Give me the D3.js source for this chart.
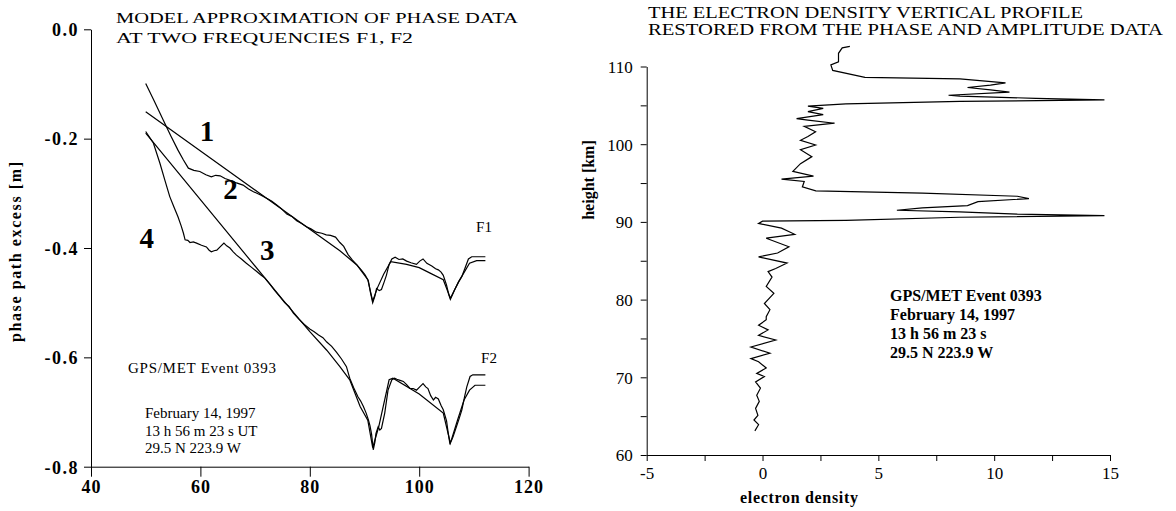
<!DOCTYPE html>
<html>
<head>
<meta charset="utf-8">
<script src="https://cdn.jsdelivr.net/npm/d3@7"></script>
<style>
  body { margin: 0; background: #fff; }
  svg { display: block; font-family: "Liberation Serif", "Times New Roman", serif; }
  .axis path, .axis line { stroke: #000; stroke-width: 1; }
  .axis text { fill: #000; font-family: "Liberation Serif", serif; }
</style>
</head>
<body>
<div id="chart"></div>
<script>
// Left panel: phase path excess at F1, F2 (x = height-like coordinate, y = metres)
const leftXTicks = [40, 60, 80, 100, 120];
const leftYTicks = [0, -0.2, -0.4, -0.6, -0.8];

// F1 measured phase (curve 2)
const f1Data = [
  [50.0,-0.099],[51.6,-0.132],[53.2,-0.166],[54.6,-0.195],[55.9,-0.221],[56.9,-0.239],[57.8,-0.254],
  [58.8,-0.258],[59.9,-0.260],[61.0,-0.266],[62.0,-0.270],[62.8,-0.267],[63.6,-0.268],[64.5,-0.273],
  [65.4,-0.276],[66.6,-0.281],[67.8,-0.285],[68.8,-0.292],[69.7,-0.297],[71.0,-0.303],[72.1,-0.309],
  [73.0,-0.314],[73.9,-0.321],[74.8,-0.328],[75.8,-0.338],[76.8,-0.343],[77.6,-0.350],[78.5,-0.355],
  [79.4,-0.361],[80.2,-0.365],[81.2,-0.371],[82.2,-0.373],[83.0,-0.376],[83.8,-0.377],[84.7,-0.380],
  [85.5,-0.390],[86.2,-0.397],[87.0,-0.412],[87.8,-0.422],[88.6,-0.431],[89.4,-0.440],[90.1,-0.449],
  [90.7,-0.460],[91.1,-0.482],[91.5,-0.500],[91.9,-0.488],[92.2,-0.474],[92.7,-0.478],[93.1,-0.476],
  [93.6,-0.462],[94.0,-0.450],[94.5,-0.430],[95.0,-0.420],[95.6,-0.417],[96.3,-0.421],[97.0,-0.420],
  [97.7,-0.424],[98.5,-0.427],[99.5,-0.430],[100.1,-0.424],[100.7,-0.420],[101.4,-0.428],[102.3,-0.433],
  [103.0,-0.438],[103.5,-0.440],[104.0,-0.444],[104.4,-0.450],[105.0,-0.468],[105.4,-0.485],[105.7,-0.494],
  [106.1,-0.485],[106.5,-0.476],[107.2,-0.462],[107.8,-0.452],[108.4,-0.436],[109.0,-0.420],[109.6,-0.416],
  [112.1,-0.416]
];
// F1 model (line 1)
const f1Model = [
  [50,-0.151],[85.5,-0.405],[88.6,-0.431],[90.6,-0.458],[91.5,-0.497],[92.4,-0.472],[93.5,-0.448],
  [94.8,-0.425],[97.7,-0.430],[100,-0.436],[102,-0.446],[104.4,-0.458],[105.7,-0.492],[107.2,-0.462],
  [109.2,-0.428],[110.5,-0.423],[112.1,-0.423]
];
// F2 measured phase (curve 4)
const f2Data = [
  [50.0,-0.187],[51.4,-0.208],[52.6,-0.245],[53.5,-0.276],[54.4,-0.306],[55.2,-0.326],[55.9,-0.343],
  [56.5,-0.360],[56.9,-0.373],[57.2,-0.385],[57.7,-0.386],[58.1,-0.390],[58.7,-0.389],[59.3,-0.391],
  [60.2,-0.395],[61.1,-0.398],[61.6,-0.404],[62.0,-0.407],[62.5,-0.405],[63.0,-0.404],[63.6,-0.398],
  [64.3,-0.391],[64.8,-0.396],[65.4,-0.400],[66.0,-0.407],[66.6,-0.413],[67.5,-0.420],[68.4,-0.428],
  [69.3,-0.435],[70.3,-0.443],[71.0,-0.449],[71.8,-0.455],[72.7,-0.466],[73.6,-0.478],[74.6,-0.490],
  [75.4,-0.500],[76.2,-0.507],[77.0,-0.519],[78.0,-0.530],[79.0,-0.540],[80.0,-0.548],[80.8,-0.553],
  [81.6,-0.559],[82.4,-0.564],[83.1,-0.572],[84.0,-0.580],[84.9,-0.591],[85.8,-0.603],[86.7,-0.617],
  [87.3,-0.638],[88.0,-0.655],[88.8,-0.672],[89.3,-0.680],[89.8,-0.690],[90.3,-0.702],[90.7,-0.714],
  [91.0,-0.725],[91.3,-0.741],[91.6,-0.769],[91.9,-0.755],[92.1,-0.739],[92.5,-0.727],[92.8,-0.733],
  [93.1,-0.730],[93.7,-0.702],[94.3,-0.660],[95.0,-0.641],[95.5,-0.638],[95.9,-0.640],[96.5,-0.642],
  [97.1,-0.644],[97.7,-0.650],[98.3,-0.657],[98.9,-0.657],[99.5,-0.660],[100.1,-0.654],[100.7,-0.648],
  [101.2,-0.654],[101.6,-0.657],[102.1,-0.670],[102.6,-0.678],[103.0,-0.673],[103.5,-0.676],[104.0,-0.688],
  [104.4,-0.696],[105.0,-0.716],[105.3,-0.738],[105.6,-0.757],[105.9,-0.752],[106.2,-0.745],[106.8,-0.727],
  [107.3,-0.712],[107.8,-0.696],[108.3,-0.672],[108.7,-0.654],[109.3,-0.635],[109.8,-0.632],[112.1,-0.632]
];
// F2 model (line 3)
const f2Model = [
  [50,-0.190],[75,-0.494],[80,-0.553],[83.1,-0.587],[85.5,-0.617],[87.3,-0.641],[89.2,-0.690],
  [90.6,-0.715],[91.5,-0.765],[92.6,-0.727],[94.5,-0.641],[95.2,-0.638],[100,-0.667],[104.4,-0.702],
  [105.7,-0.757],[107,-0.715],[108.2,-0.678],[109.2,-0.660],[110.2,-0.651],[112.1,-0.651]
];
const curveLabels = [
  { text: '1', x: 61.2, y: -0.205 },
  { text: '2', x: 65.5, y: -0.311 },
  { text: '3', x: 72.2, y: -0.422 },
  { text: '4', x: 50.2, y: -0.400 }
];

// Right panel: electron density profile [density, height km]
const rightXTicks = [-5, -2.5, 0, 2.5, 5, 7.5, 10, 12.5, 15];
const rightYTicks = [60, 65, 70, 75, 80, 85, 90, 95, 100, 105, 110];
const profile = [
  [-0.33,63.1],[-0.17,63.9],[-0.37,64.5],[-0.20,65.1],[-0.30,66.0],[-0.14,66.9],[-0.25,67.7],
  [-0.09,68.6],[-0.30,69.4],[0.08,70.1],[-0.25,70.5],[0.16,71.2],[-0.17,72.0],[-0.50,72.4],
  [0.32,73.1],[-0.50,73.9],[0.57,74.8],[-0.17,75.4],[0.24,76.1],[-0.17,76.7],[0.16,77.4],
  [0.16,77.8],[0.32,78.7],[0.08,79.5],[0.49,80.8],[0.16,81.7],[0.41,82.9],[0.24,83.6],
  [0.57,84.0],[1.06,84.7],[-0.17,85.5],[0.65,86.0],[1.14,86.8],[0.16,87.9],[1.39,88.4],
  [0.82,89.2],[-0.17,89.8],[0.0,90.1],[3.6,90.2],[8.5,90.6],[14.76,90.8],[11.0,91.0],
  [8.5,91.3],[5.8,91.5],[6.9,91.8],[8.85,92.1],[9.3,92.6],[11.5,93.0],[11.0,93.3],
  [6.9,93.7],[2.3,94.0],[1.72,94.5],[1.8,95.2],[0.82,95.5],[2.2,95.9],[1.31,96.5],
  [1.64,97.5],[2.13,98.4],[1.64,99.3],[2.29,99.9],[1.64,100.5],[1.96,101.0],[2.29,101.6],
  [1.80,102.3],[3.11,102.7],[1.96,103.1],[1.47,103.3],[2.62,103.8],[1.96,104.2],[2.62,104.6],
  [1.96,104.9],[3.6,105.2],[8.52,105.5],[14.76,105.7],[11.8,105.9],[8.52,106.2],[8.03,106.3],
  [10.66,106.7],[9.84,107.0],[8.85,107.3],[9.84,107.6],[10.49,107.9],[8.52,108.4],[4.42,108.6],
  [3.03,109.5],[2.95,110.2],[3.28,110.6],[3.28,111.7],[3.44,112.4],[3.77,112.6]
];

const leftTitle = ['MODEL APPROXIMATION OF PHASE DATA', 'AT TWO FREQUENCIES F1, F2'];
const rightTitle = ['THE ELECTRON DENSITY VERTICAL PROFILE', 'RESTORED FROM THE PHASE AND AMPLITUDE DATA'];
const leftNote = ['February 14, 1997', '13 h 56 m 23 s UT', '29.5 N 223.9 W'];
const rightNote = ['GPS/MET Event 0393', 'February 14, 1997', '13 h 56 m 23 s', '29.5 N 223.9 W'];

const svg = d3.select('#chart').append('svg')
  .attr('width', 1176)
  .attr('height', 511);

// ---------- left panel ----------
const xL = d3.scaleLinear().domain([40, 120]).range([91, 528.6]);
const yL = d3.scaleLinear().domain([-0.8, 0]).range([466.7, 29.3]);

svg.append('g').attr('class', 'axis')
  .attr('transform', `translate(0,${yL(-0.8)})`)
  .call(d3.axisBottom(xL).tickValues(leftXTicks).tickSize(10).tickSizeOuter(0).tickPadding(4))
  .selectAll('text').attr('font-size', 18).attr('font-weight', 'bold').attr('letter-spacing', 1);

svg.append('g').attr('class', 'axis')
  .attr('transform', `translate(${xL(40)},0)`)
  .call(d3.axisLeft(yL).tickValues(leftYTicks).tickSize(7).tickSizeOuter(0).tickPadding(5)
    .tickFormat(d => d.toFixed(1)))
  .selectAll('text').attr('font-size', 18).attr('font-weight', 'bold')
  .attr('letter-spacing', 1.5).attr('dy', '0.35em');

const lineL = d3.line().x(d => xL(d[0])).y(d => yL(d[1]));
[f1Model, f1Data, f2Model, f2Data].forEach(s => {
  svg.append('path')
    .attr('d', lineL(s))
    .attr('fill', 'none')
    .attr('stroke', '#000')
    .attr('stroke-width', 1.2);
});

svg.selectAll('.curve-label')
  .data(curveLabels)
  .enter().append('text')
  .attr('x', d => xL(d.x))
  .attr('y', d => yL(d.y))
  .attr('text-anchor', 'middle')
  .attr('font-size', 29)
  .attr('font-weight', 'bold')
  .text(d => d.text);

svg.append('text').attr('x', 484).attr('y', 232).attr('text-anchor', 'middle')
  .attr('font-size', 15).text('F1');
svg.append('text').attr('x', 489).attr('y', 363).attr('text-anchor', 'middle')
  .attr('font-size', 15).text('F2');

leftTitle.forEach((t, i) => {
  svg.append('text').attr('x', 116).attr('y', 23 + i * 20)
    .attr('font-size', 15)
    .attr('textLength', i === 0 ? 402 : 297).attr('lengthAdjust', 'spacingAndGlyphs')
    .text(t);
});

svg.append('text')
  .attr('transform', `translate(21,252) rotate(-90)`)
  .attr('text-anchor', 'middle')
  .attr('font-size', 16)
  .attr('font-weight', 'bold')
  .attr('textLength', 180)
  .text('phase path  excess [m]');

svg.append('text').attr('x', 128).attr('y', 373).attr('font-size', 15)
  .attr('textLength', 148).text('GPS/MET Event 0393');
leftNote.forEach((t, i) => {
  svg.append('text').attr('x', 145).attr('y', 418 + i * 17.5)
    .attr('font-size', 15).text(t);
});

// ---------- right panel ----------
const xR = d3.scaleLinear().domain([-5, 15]).range([646.7, 1110]);
const yR = d3.scaleLinear().domain([60, 110]).range([455, 66.5]);

svg.append('g').attr('class', 'axis')
  .attr('transform', `translate(0,${yR(60)})`)
  .call(d3.axisBottom(xR).tickValues(rightXTicks).tickSize(6).tickSizeOuter(0).tickPadding(6)
    .tickFormat(d => d % 5 === 0 ? d : ''))
  .selectAll('text').attr('font-size', 17);

svg.append('g').attr('class', 'axis')
  .attr('transform', `translate(${xR(-5)},0)`)
  .call(d3.axisLeft(yR).tickValues(rightYTicks).tickSize(6).tickSizeOuter(0).tickPadding(8)
    .tickFormat(d => d % 10 === 0 ? d : ''))
  .selectAll('text').attr('font-size', 17).attr('dy', '0.35em');

const lineR = d3.line().x(d => xR(d[0])).y(d => yR(d[1]));
svg.append('path')
  .attr('d', lineR(profile))
  .attr('fill', 'none')
  .attr('stroke', '#000')
  .attr('stroke-width', 1.2);

rightTitle.forEach((t, i) => {
  svg.append('text').attr('x', 648).attr('y', 18 + i * 17)
    .attr('font-size', 16)
    .attr('textLength', i === 0 ? 435 : 515).attr('lengthAdjust', 'spacingAndGlyphs')
    .text(t);
});

svg.append('text')
  .attr('transform', `translate(594,180) rotate(-90)`)
  .attr('text-anchor', 'middle')
  .attr('font-size', 16)
  .attr('font-weight', 'bold')
  .text('height [km]');

svg.append('text').attr('x', 799).attr('y', 503).attr('text-anchor', 'middle')
  .attr('font-size', 16).attr('font-weight', 'bold').attr('textLength', 118)
  .text('electron density');

rightNote.forEach((t, i) => {
  svg.append('text').attr('x', 890).attr('y', 301 + i * 19)
    .attr('font-size', 16).attr('font-weight', 'bold').text(t);
});
</script>
</body>
</html>
